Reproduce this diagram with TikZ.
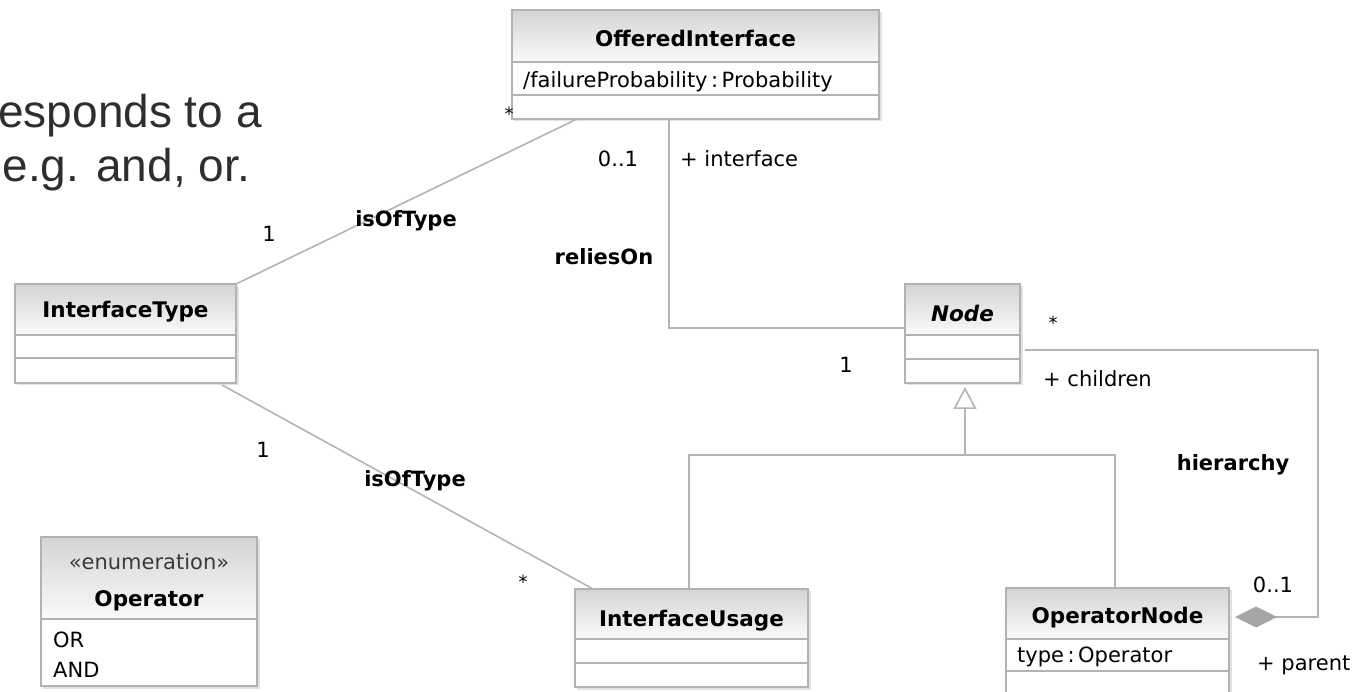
\documentclass[tikz,border=0pt]{standalone}
\usepackage{fontspec}
\setmainfont{DejaVu Sans}
\newfontfamily\prosefont{Liberation Sans}
\usetikzlibrary{arrows.meta,calc}
\definecolor{boxline}{HTML}{B2B2B2}
\definecolor{boxshade}{HTML}{E2E2E2}
\definecolor{hdtop}{HTML}{D4D4D4}
\definecolor{hdbot}{HTML}{FAFAFA}
\definecolor{conn}{HTML}{B4B4B4}
\definecolor{diafill}{HTML}{A6A6A6}
\definecolor{prosegray}{HTML}{2E2E2E}
\definecolor{stereo}{HTML}{3A3A3A}
\tikzset{
  classbox/.style={rectangle, fill=white, inner sep=0pt, outer sep=0pt},
  border/.style={draw=boxline, line width=1.6pt},
  shadow/.style={fill=boxshade},
  divider/.style={draw=boxline, line width=1.4pt},
  header/.style={top color=hdtop, bottom color=hdbot},
  assoc/.style={draw=conn, line width=1.6pt},
  ttl/.style={inner sep=0pt, anchor=base, font=\fontsize{21.5}{25}\selectfont\bfseries},
  attr/.style={inner sep=0pt, anchor=base west, font=\fontsize{21}{25}\selectfont},
  lbl/.style={inner sep=0pt, anchor=base, font=\fontsize{21}{25}\selectfont},
  role/.style={inner sep=0pt, anchor=base west, font=\fontsize{21}{25}\selectfont},
  assocname/.style={inner sep=0pt, anchor=base, font=\fontsize{21}{25}\selectfont\bfseries},
  prose/.style={inner sep=0pt, anchor=base east, text=prosegray, font=\fontsize{46}{54}\selectfont\prosefont},
}
\begin{document}
\begin{tikzpicture}[x=1pt, y=-1pt]
\useasboundingbox (0,0) rectangle (1355,692);
\clip (0,0) rectangle (1355,692);

% ---- surrounding slide text ----
\node[prose] (p1) at (262,128) {esponds to a};
\node[prose] (p2) at (250,182) {e.g. and, or.};

% ---- class frames ----
\node[classbox, minimum width=367pt, minimum height=109pt] (oi) at (695.5,64.5) {};
\node[classbox, minimum width=221pt, minimum height=99pt] (it) at (125.5,333.5) {};
\node[classbox, minimum width=216pt, minimum height=149pt] (op) at (149,611.5) {};
\node[classbox, minimum width=233pt, minimum height=98pt] (iu) at (691.5,638) {};
\node[classbox, minimum width=115pt, minimum height=99pt] (nd) at (962.5,333.5) {};
\node[classbox, minimum width=223pt, minimum height=132pt] (on) at (1117.5,654) {};

% soft shadows, headers, compartments and borders
\foreach \c/\h in {oi/52, it/51, op/82, iu/50, nd/51, on/51} {
  \fill[shadow] ($(\c.north east)+(0,2)$) rectangle ($(\c.south east)+(2.5,2.5)$);
  \fill[shadow] ($(\c.south west)+(2,0)$) rectangle ($(\c.south east)+(2.5,2.5)$);
  \fill[header] (\c.north west) rectangle ($(\c.north east)+(0,\h)$);
  \draw[divider] ($(\c.north west)+(0,\h)$) -- ($(\c.north east)+(0,\h)$);
}
\draw[divider] ($(oi.north west)+(0,85)$) -- ($(oi.north east)+(0,85)$);
\draw[divider] ($(it.north west)+(0,74)$) -- ($(it.north east)+(0,74)$);
\draw[divider] ($(iu.north west)+(0,74)$) -- ($(iu.north east)+(0,74)$);
\draw[divider] ($(nd.north west)+(0,75)$) -- ($(nd.north east)+(0,75)$);
\draw[divider] ($(on.north west)+(0,83)$) -- ($(on.north east)+(0,83)$);
\foreach \c in {oi, it, op, iu, nd, on}
  \draw[border] (\c.north west) rectangle (\c.south east);

% ---- class texts ----
\node[ttl] (oi-t) at (695.5,47) {OfferedInterface};
\node[attr] (oi-a) at (523,88) {/failureProbability\,:\,Probability};
\node[ttl] (it-t) at (125.5,318) {InterfaceType};
\node[lbl, text=stereo] (op-s) at (149,569) {«enumeration»};
\node[ttl] (op-t) at (149,606) {Operator};
\node[attr] (op-a) at (53,647) {OR};
\node[attr] (op-b) at (53,677) {AND};
\node[ttl] (iu-t) at (691.5,626) {InterfaceUsage};
\node[ttl, font=\fontsize{21.5}{25}\selectfont\bfseries\itshape] (nd-t) at (962.5,322) {Node};
\node[ttl] (on-t) at (1117.5,623) {OperatorNode};
\node[attr] (on-a) at (1017,662) {type\,:\,Operator};

% ---- connector waypoints ----
\coordinate (ro) at ($(oi.south west)+(157,0)$);
\coordinate (rn) at ($(nd.north west)+(0,44)$);
\coordinate (gen) at ($(nd.south)+(2.5,72)$);
\coordinate (hs) at ($(on.north east)+(6,29)$);
\coordinate (hc) at (1318,350);
\coordinate (he) at ($(nd.north east)+(5,66)$);

% isOfType (InterfaceType - OfferedInterface)
\draw[assoc] (it.north east) -- ($(oi.south west)+(65,0)$);
% isOfType (InterfaceType - InterfaceUsage)
\draw[assoc] ($(it.south east)+(-14,2)$) -- ($(iu.north west)+(18,0)$);
% reliesOn
\draw[assoc] (ro) |- (rn);
% generalisation to Node
\draw[assoc] ($(iu.north)+(-2.5,0)$) |- (gen) -| ($(on.north)+(-2.5,0)$);
\draw[assoc, -{Triangle[open, length=22pt, width=23pt, line width=1.6pt, fill=white]}, shorten >=4pt] (gen) -- (gen |- nd.south);
% hierarchy composition
\draw[assoc, {Diamond[length=42pt, width=21pt, color=diafill, fill=diafill]}-] (hs) -| (hc) -- (he);

% ---- association labels ----
\node[lbl, anchor=center, font=\fontsize{18}{20}\selectfont] (m1) at (509,114) {*};
\node[lbl] (m2) at (618,167) {0..1};
\node[role] (r1) at (680,167) {+ interface};
\node[lbl] (m3) at (269,242) {1};
\node[assocname] (a1) at (406,227) {isOfType};
\node[assocname] (a2) at (604,265) {reliesOn};
\node[lbl] (m4) at (846,373) {1};
\node[lbl, anchor=center, font=\fontsize{18}{20}\selectfont] (m5) at (1053,323) {*};
\node[role] (r2) at (1043,387) {+ children};
\node[assocname] (a3) at (1233,470) {hierarchy};
\node[lbl] (m6) at (263,457) {1};
\node[assocname] (a4) at (415,486) {isOfType};
\node[lbl, anchor=center, font=\fontsize{18}{20}\selectfont] (m7) at (523,582) {*};
\node[lbl] (m8) at (1273,592) {0..1};
\node[role] (r3) at (1257,670) {+ parent};
\end{tikzpicture}
\end{document}
